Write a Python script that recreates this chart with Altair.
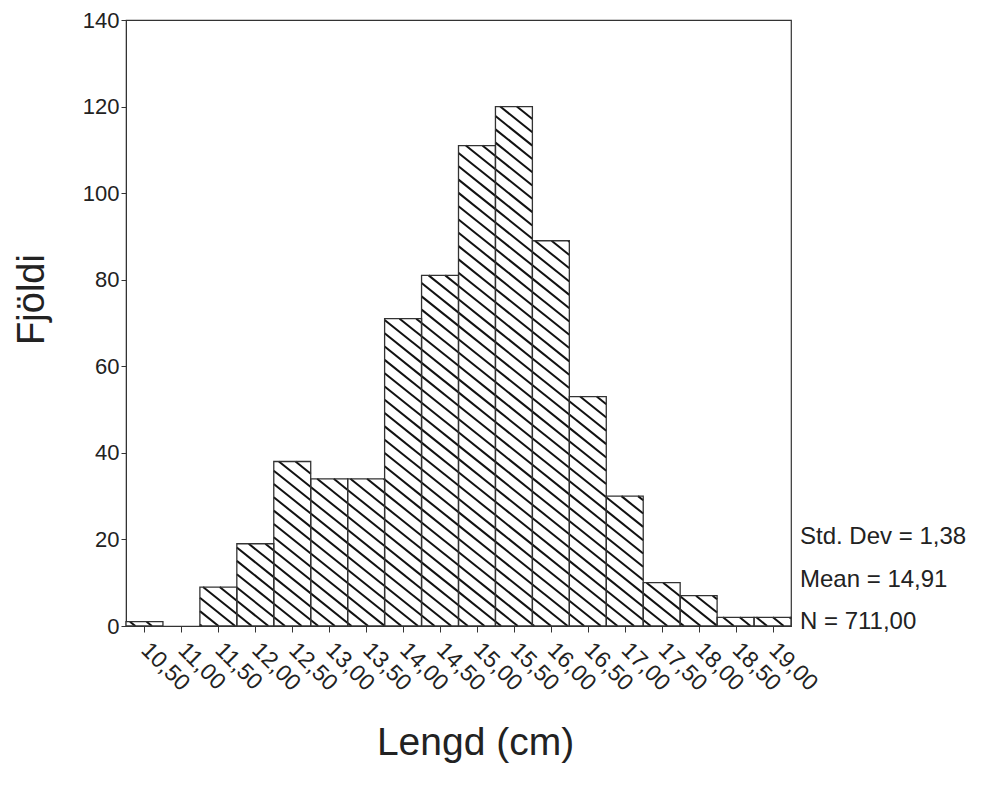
import altair as alt
import pandas as pd
import numpy as np

# ---- data ----
bin_centers = [10.5, 11.0, 11.5, 12.0, 12.5, 13.0, 13.5, 14.0, 14.5,
               15.0, 15.5, 16.0, 16.5, 17.0, 17.5, 18.0, 18.5, 19.0]
counts = [1, 0, 9, 19, 38, 34, 34, 71, 81, 111, 120, 89, 53, 30, 10, 7, 2, 2]
y_ticks = [0, 20, 40, 60, 80, 100, 120, 140]
stats_lines = ["Std. Dev = 1,38", "Mean = 14,91", "N = 711,00"]

BIN_W = 0.5
X_MIN, X_MAX = 10.25, 19.25
Y_MAX = 140
W, H = 665, 606
FONT = "Liberation Sans"

bars = pd.DataFrame({"center": bin_centers, "count": counts})
bars["x0"] = bars["center"] - BIN_W / 2
bars["x1"] = bars["center"] + BIN_W / 2
bars["base"] = 0
bars = bars[bars["count"] > 0].reset_index(drop=True)

# ---- hatch pattern (diagonal lines) clipped to each bar ----
sx = W / (X_MAX - X_MIN)
sy = H / Y_MAX
slope = 0.8
step = 13.3
segs = []
for _, r in bars.iterrows():
    X0 = (r.x0 - X_MIN) * sx
    X1 = (r.x1 - X_MIN) * sx
    Yt = (Y_MAX - r["count"]) * sy
    Yb = H
    for c in np.arange(-slope * W - step, H + step, step):
        xa = max(X0, (Yt - c) / slope)
        xb = min(X1, (Yb - c) / slope)
        if xb - xa > 0.8:
            ya = slope * xa + c
            yb = slope * xb + c
            segs.append({
                "hx": xa / sx + X_MIN, "hx2": xb / sx + X_MIN,
                "hy": Y_MAX - ya / sy, "hy2": Y_MAX - yb / sy,
            })
hatch = pd.DataFrame(segs)

x_scale = alt.Scale(domain=[X_MIN, X_MAX], nice=False, zero=False)
y_scale = alt.Scale(domain=[0, Y_MAX], nice=False)

x_axis = alt.Axis(
    values=bin_centers,
    labelExpr="replace(format(datum.value, '.2f'), '.', ',')",
    labelAngle=45, labelAlign="left", labelBaseline="middle",
    labelPadding=14, labelOverlap=False, labelFlush=False, labelBound=False,
    labelFontSize=23, labelFont=FONT, labelColor="#222",
    tickSize=6, tickColor="#333", domainColor="#333", grid=False,
    title="Lengd (cm)", titleFontSize=39, titleFont=FONT, titleFontWeight="normal",
    titleColor="#222", titleX=349, titleY=116, titleBaseline="middle",
    titleAnchor="middle", titleAlign="center",
)
y_axis = alt.Axis(
    values=y_ticks, labelFontSize=22, labelFont=FONT, labelColor="#222",
    labelPadding=2, tickSize=5, tickColor="#333", domainColor="#333", grid=False,
    title="Fjöldi", titleFontSize=38, titleFont=FONT, titleFontWeight="normal",
    titleColor="#222", titleX=-94, titleY=279, titleAngle=270,
    titleBaseline="middle", titleAlign="center",
)

bar_fill = alt.Chart(bars).mark_rect(fill="white", stroke=None).encode(
    x=alt.X("x0:Q", scale=x_scale, axis=x_axis),
    x2="x1:Q",
    y=alt.Y("count:Q", scale=y_scale, axis=y_axis),
    y2="base:Q",
)

hatch_layer = alt.Chart(hatch).mark_rule(color="#111", strokeWidth=2.0).encode(
    x=alt.X("hx:Q", scale=x_scale, axis=x_axis),
    x2="hx2:Q",
    y=alt.Y("hy:Q", scale=y_scale, axis=y_axis),
    y2="hy2:Q",
)

bar_outline = alt.Chart(bars).mark_rect(
    fill=None, fillOpacity=0, stroke="#333", strokeWidth=1.3
).encode(
    x=alt.X("x0:Q", scale=x_scale, axis=x_axis),
    x2="x1:Q",
    y=alt.Y("count:Q", scale=y_scale, axis=y_axis),
    y2="base:Q",
)

stat_layers = []
stat_y = [517, 560, 602]
for line, yy in zip(stats_lines, stat_y):
    stat_layers.append(
        alt.Chart(pd.DataFrame({"label": [line]})).mark_text(
            align="left", baseline="middle", fontSize=24, font=FONT, color="#222"
        ).encode(text="label:N", x=alt.value(W + 9), y=alt.value(yy))
    )

chart = alt.layer(bar_fill, hatch_layer, bar_outline, *stat_layers).properties(
    width=W, height=H,
    autosize=alt.AutoSizeParams(type="none"),
    padding={"left": 118, "top": 12, "right": 185, "bottom": 150},
    background="white",
).configure_view(stroke="#333", strokeWidth=1.2)

chart.save("out.html", embed_options={"renderer": "svg", "actions": False})
